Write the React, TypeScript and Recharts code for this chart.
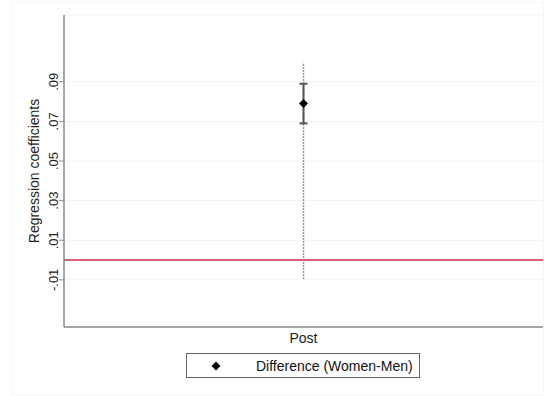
import {
  ComposedChart,
  Scatter,
  ErrorBar,
  XAxis,
  YAxis,
  CartesianGrid,
  ReferenceLine,
  Legend,
} from "recharts";

const categories = ["Post"];
const estimates = [0.079];
const ci95Low = [0.069];
const ci95High = [0.089];
const ciWideLow = [-0.0094];
const ciWideHigh = [0.0997];
const yTicks = [-0.01, 0.01, 0.03, 0.05, 0.07, 0.09];
const seriesName = "Difference (Women-Men)";

const data = categories.map((name, i) => ({
  name,
  est: estimates[i],
  ci95: [estimates[i] - ci95Low[i], ci95High[i] - estimates[i]],
  ciWide: [estimates[i] - ciWideLow[i], ciWideHigh[i] - estimates[i]],
}));

const FONT = '"Liberation Sans", Arial, sans-serif';
const AXIS_GREY = "#8a8a8a";

// ".09" style labels, Stata drops the leading zero
const fmt = (v: number) => {
  const s = Math.abs(v).toFixed(2).replace(/^0/, "");
  return v < 0 ? "-" + s : s;
};

function YTick(props: any) {
  const { x, y, payload } = props;
  const bx = x + 1;
  return (
    <text
      x={bx}
      y={y}
      transform={`rotate(-90, ${bx}, ${y})`}
      textAnchor="middle"
      fontSize={13}
      fill="#222"
      fontFamily={FONT}
    >
      {fmt(payload.value)}
    </text>
  );
}

function Diamond(props: any) {
  const { cx, cy } = props;
  const r = 4.5;
  return (
    <polygon
      points={`${cx},${cy - r} ${cx + r},${cy} ${cx},${cy + r} ${cx - r},${cy}`}
      fill="#000"
    />
  );
}

function LegendBox() {
  return (
    <div
      style={{
        width: 234,
        height: 25,
        border: "1px solid #666",
        boxSizing: "border-box",
        display: "flex",
        alignItems: "center",
        fontFamily: FONT,
        fontSize: 14,
        color: "#111",
        background: "#fff",
      }}
    >
      <svg width={56} height={20}>
        <polygon points="29,5.5 33.5,10 29,14.5 24.5,10" fill="#000" />
      </svg>
      <span style={{ marginLeft: 13 }}>{seriesName}</span>
    </div>
  );
}

export default function App() {
  return (
    <div style={{ position: "absolute", left: 0, top: 0, width: 544, height: 396, background: "#fff" }}>
      <div
        style={{
          position: "absolute",
          left: 11,
          top: 2,
          width: 533,
          height: 394,
          border: "1px solid #f6f6f6",
          boxSizing: "border-box",
        }}
      />
      <ComposedChart
        width={544}
        height={396}
        data={data}
        margin={{ top: 15, right: 1, bottom: 39, left: 0 }}
        style={{ fontFamily: FONT }}
      >
        <CartesianGrid vertical={false} stroke="#edf3f6" strokeWidth={1} />
        <XAxis
          dataKey="name"
          type="category"
          height={30}
          tickSize={0}
          tickMargin={6}
          axisLine={{ stroke: AXIS_GREY, strokeWidth: 1.5 }}
          tick={{ fill: "#222", fontSize: 14, fontFamily: FONT }}
        />
        <YAxis
          type="number"
          domain={[-0.0338, 0.1237]}
          ticks={yTicks}
          width={64}
          tickSize={5}
          tickMargin={2}
          axisLine={{ stroke: AXIS_GREY, strokeWidth: 1.5 }}
          tickLine={{ stroke: AXIS_GREY }}
          tick={<YTick />}
          label={{
            value: "Regression coefficients",
            angle: -90,
            position: "center",
            dx: 2,
            fontSize: 14,
            fill: "#222",
            fontFamily: FONT,
          }}
        />
        <ReferenceLine y={0} stroke="#d4264a" strokeWidth={1.5} />
        <Scatter
          name={seriesName}
          dataKey="est"
          fill="#000"
          shape={<Diamond />}
          isAnimationActive={false}
        >
          <ErrorBar
            dataKey="ciWide"
            direction="y"
            width={0}
            stroke="#7a7a7a"
            strokeWidth={1.5}
            strokeDasharray="1.5 1.5"
          />
          <ErrorBar
            dataKey="ci95"
            direction="y"
            width={4}
            stroke="#555"
            strokeWidth={2}
          />
        </Scatter>
        <Legend
          layout="horizontal"
          verticalAlign="middle"
          content={<LegendBox />}
          wrapperStyle={{ top: 353, left: 186, width: 234 }}
        />
      </ComposedChart>
    </div>
  );
}
